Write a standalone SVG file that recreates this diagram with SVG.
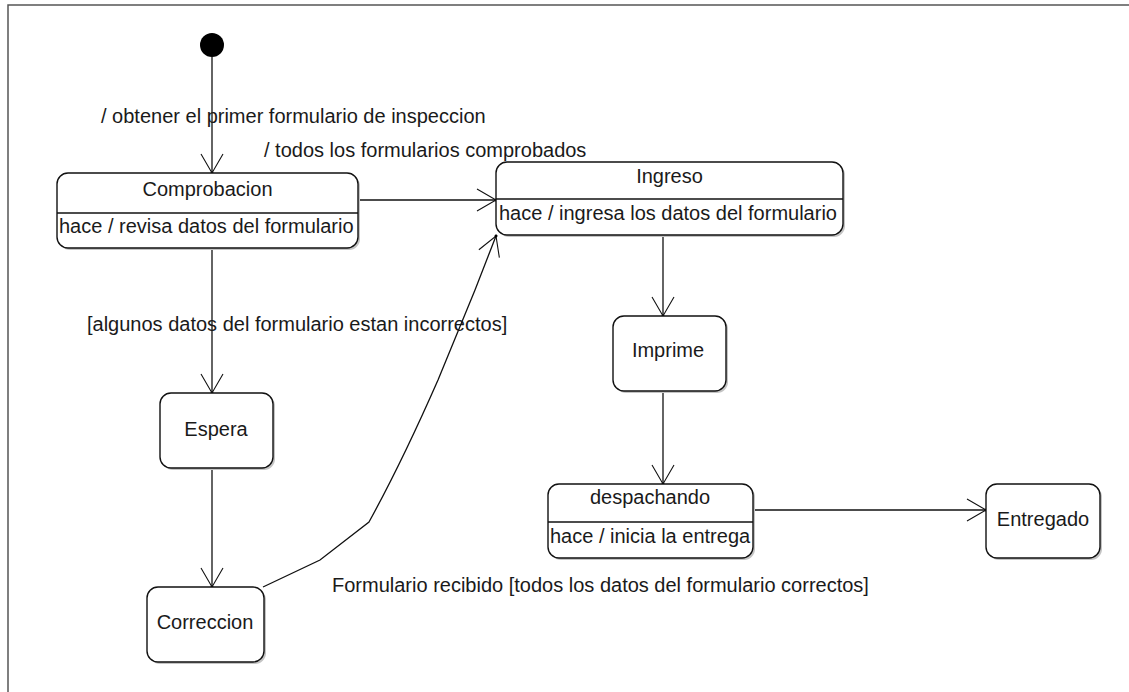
<svg xmlns="http://www.w3.org/2000/svg" width="1129" height="692" viewBox="0 0 1129 692">
  <style>
    text { font-family: "Liberation Sans", Arial, sans-serif; font-size: 20px; fill: #1a1a1a; }
    .mid { text-anchor: middle; }
    .box { fill: #ffffff; stroke: #111111; stroke-width: 1.4; }
    .shadow { fill: #c4c4c4; stroke: none; }
    .div { stroke: #111111; stroke-width: 1.4; }
    .edge { fill: none; stroke: #111111; stroke-width: 1.3; marker-end: url(#arr); }
    .frame { fill: none; stroke: #555555; stroke-width: 1.5; }
  </style>
  <defs>
    <marker id="arr" markerUnits="userSpaceOnUse" viewBox="-22 -12 24 24" refX="0" refY="0" markerWidth="24" markerHeight="24" orient="auto" overflow="visible">
      <path d="M-19,-11 L0,0 L-19,11" fill="none" stroke="#111111" stroke-width="1.1"/>
      <circle r="1.5" fill="#000000"/>
    </marker>
  </defs>

  <rect width="1129" height="692" fill="#ffffff"/>
  <!-- diagram frame -->
  <path class="frame" d="M8,692 L8,5 L1129,5"/>

  <!-- transitions -->
  <g id="connectors">
    <line class="edge" x1="212" y1="57" x2="212" y2="173"/>
    <line class="edge" x1="358" y1="200" x2="496" y2="200"/>
    <line class="edge" x1="212" y1="248" x2="212" y2="393"/>
    <line class="edge" x1="212" y1="468" x2="212" y2="587"/>
    <path class="edge" d="M263,587 L320,560 L369,522 Q402,462 438,380 L475,290 L496,236"/>
    <line class="edge" x1="663" y1="235" x2="663" y2="316"/>
    <line class="edge" x1="663" y1="391" x2="663" y2="484"/>
    <line class="edge" x1="753" y1="510" x2="986" y2="510"/>
    <text x="101" y="123">/ obtener el primer formulario de inspeccion</text>
    <text x="264" y="157">/ todos los formularios comprobados</text>
    <text x="87" y="331">[algunos datos del formulario estan incorrectos]</text>
    <text x="332" y="592">Formulario recibido [todos los datos del formulario correctos]</text>
  </g>

  <!-- initial pseudo-state -->
  <g id="inicio">
    <circle cx="212" cy="45" r="12" fill="#000000"/>
  </g>

  <g id="comprobacion">
    <rect class="shadow" x="59" y="175" width="301" height="75" rx="11"/>
    <rect class="box" x="57" y="173" width="301" height="75" rx="11"/>
    <line class="div" x1="57" y1="213" x2="358" y2="213"/>
    <text class="mid" x="207.5" y="196">Comprobacion</text>
    <text x="59" y="233">hace / revisa datos del formulario</text>
  </g>

  <g id="ingreso">
    <rect class="shadow" x="498" y="164" width="347" height="73" rx="11"/>
    <rect class="box" x="496" y="162" width="347" height="73" rx="11"/>
    <line class="div" x1="496" y1="199" x2="843" y2="199"/>
    <text class="mid" x="669.5" y="183">Ingreso</text>
    <text x="499" y="220">hace / ingresa los datos del formulario</text>
  </g>

  <g id="espera">
    <rect class="shadow" x="162" y="395" width="113" height="75" rx="11"/>
    <rect class="box" x="160" y="393" width="113" height="75" rx="11"/>
    <text class="mid" x="216" y="436">Espera</text>
  </g>

  <g id="correccion">
    <rect class="shadow" x="149" y="589" width="117" height="75" rx="11"/>
    <rect class="box" x="147" y="587" width="117" height="75" rx="11"/>
    <text class="mid" x="205" y="629">Correccion</text>
  </g>

  <g id="imprime">
    <rect class="shadow" x="615" y="318" width="113" height="75" rx="11"/>
    <rect class="box" x="613" y="316" width="113" height="75" rx="11"/>
    <text class="mid" x="668" y="357">Imprime</text>
  </g>

  <g id="despachando">
    <rect class="shadow" x="550" y="486" width="205" height="74" rx="11"/>
    <rect class="box" x="548" y="484" width="205" height="74" rx="11"/>
    <line class="div" x1="548" y1="522" x2="753" y2="522"/>
    <text class="mid" x="650" y="504">despachando</text>
    <text x="550" y="543">hace / inicia la entrega</text>
  </g>

  <g id="entregado">
    <rect class="shadow" x="988" y="486" width="114" height="74" rx="11"/>
    <rect class="box" x="986" y="484" width="114" height="74" rx="11"/>
    <text class="mid" x="1043" y="526">Entregado</text>
  </g>
</svg>
